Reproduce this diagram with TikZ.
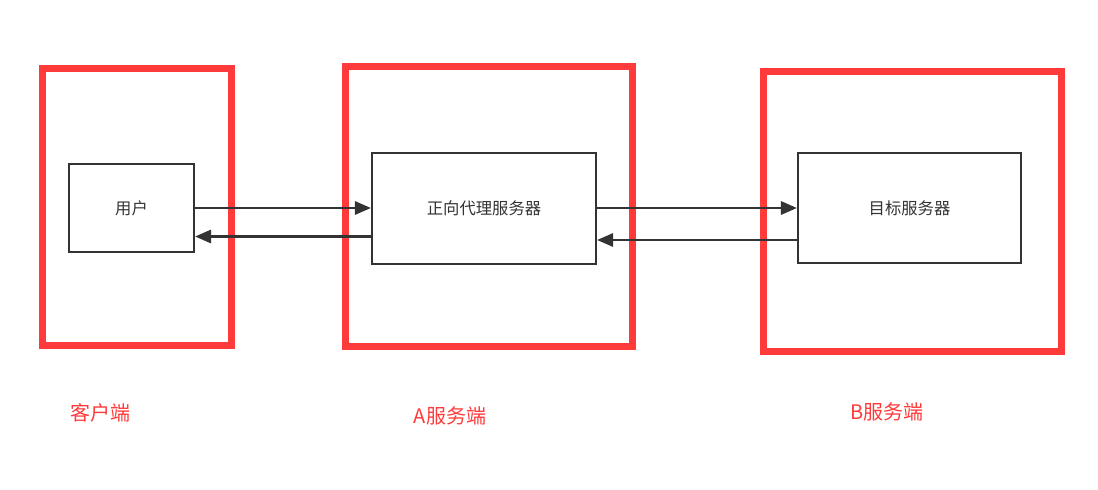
\documentclass[tikz,border=0pt]{standalone}
\usepackage{fontspec}
\newfontfamily\cjk{Noto Sans CJK SC}
\usetikzlibrary{arrows.meta}
\definecolor{redline}{RGB}{255,58,58}
\definecolor{dark}{RGB}{51,51,51}
\begin{document}
\begin{tikzpicture}[x=0.75pt,y=-0.75pt,
  group/.style={draw=redline,line width=5.25pt,rectangle,inner sep=0pt},
  box/.style={draw=dark,line width=1.7pt,rectangle,inner sep=0pt,fill=white,
    font=\cjk\fontsize{12.25pt}{14pt}\selectfont,text=dark},
  lbl/.style={font=\cjk\fontsize{15pt}{17pt}\selectfont,text=redline,inner sep=0pt},
  arr/.style={draw=dark,line width=1.7pt,-{Triangle[length=12pt,width=10pt]}}]
\useasboundingbox[fill=white] (0,0) rectangle (1098,489);
\node[group,minimum width=141.4pt,minimum height=207.75pt] (g1) at (136.75,206.5) {};
\node[group,minimum width=215.6pt,minimum height=210pt] (g2) at (488.75,206.5) {};
\node[group,minimum width=223.5pt,minimum height=210pt] (g3) at (912.5,211.5) {};
\node[box,minimum width=93.75pt,minimum height=66pt] (user) at (131.5,208) {用户};
\node[box,minimum width=168pt,minimum height=83.25pt] (proxy) at (484,208.5) {正向代理服务器};
\node[box,minimum width=167.25pt,minimum height=82.5pt] (target) at (909.5,208) {目标服务器};
\draw[arr] (user.east) -- (user.east -| proxy.west);
\draw[arr] ([yshift=-21pt]proxy.west) -- ([yshift=-21pt]proxy.west -| user.east);
\draw[arr] (proxy.east |- target.west) -- (target.west);
\draw[arr] ([yshift=-24pt]target.west) -- ([yshift=-24pt]target.west -| proxy.east);
\node[lbl] (l1) at (100,413) {客户端};
\node[lbl] (l2) at (450,416) {A服务端};
\node[lbl] (l3) at (887,412) {B服务端};
\end{tikzpicture}
\end{document}
